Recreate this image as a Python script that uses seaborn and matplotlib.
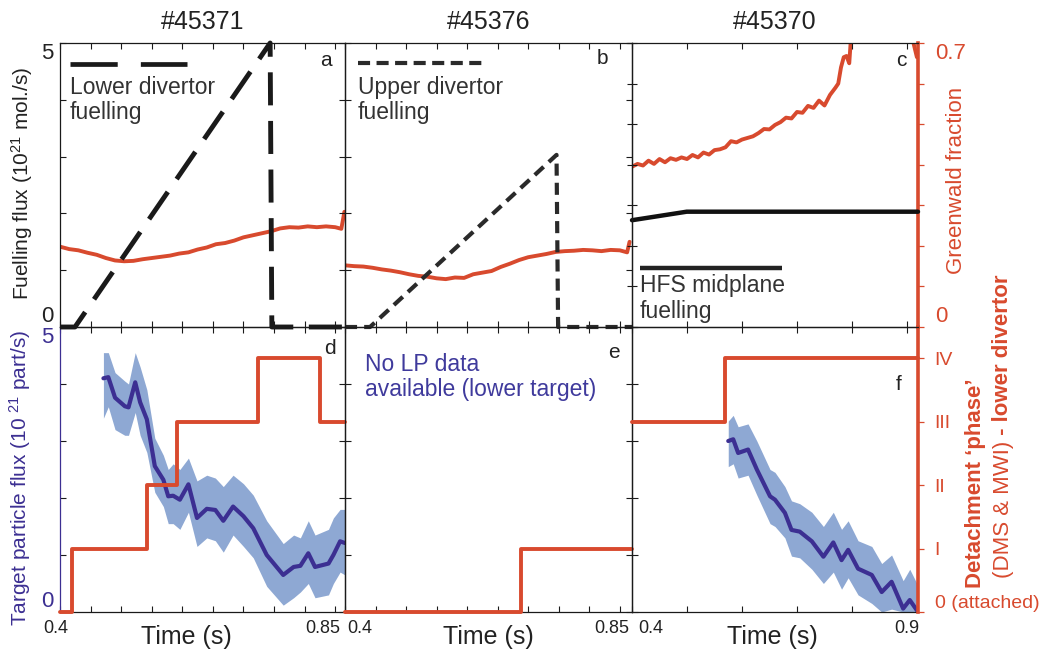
import numpy as np
import pandas as pd
import matplotlib
matplotlib.use("Agg")
import matplotlib.pyplot as plt
import matplotlib.transforms as mtransforms
import seaborn as sns

sns.set_theme(style="white")
plt.rcParams['font.family'] = ['Liberation Sans', 'DejaVu Sans']
plt.rcParams['mathtext.fontset'] = 'custom'
plt.rcParams['mathtext.rm'] = 'Liberation Sans'
plt.rcParams['mathtext.it'] = 'Liberation Sans:italic'
plt.rcParams['mathtext.bf'] = 'Liberation Sans:bold'

RED = '#d84a2e'
NAVY = '#3c2f92'
BAND = '#8ea8d3'
TXT = '#222222'

# ---------------- data ----------------
shots = ['#45371', '#45376', '#45370']
letters_top = ['a', 'b', 'c']
letters_bot = ['d', 'e', 'f']
xlims = [(0.4, 0.866), (0.4, 0.87), (0.4, 0.92)]
xtick_step = [0.05, 0.05, 0.1]
xtick_ends = [('0.4', '0.85'), ('0.4', '0.85'), ('0.4', '0.9')]
xtick_last = [0.85, 0.85, 0.9]
gw_ticks = [0.0, 0.1, 0.2, 0.3, 0.4, 0.5, 0.6, 0.7]
gw_ticklabels = ['0', '', '', '', '', '', '', '0.7']

# fuelling flux (1e21 mol/s)
fuel_a_t = [0.400, 0.4245, 0.7436, 0.7464, 0.866]
fuel_a_v = [0.0, 0.0, 5.0, 0.0, 0.0]
fuel_b_t = [0.400, 0.441, 0.7464, 0.749, 0.870]
fuel_b_v = [0.0, 0.0, 3.03, 0.0, 0.0]
fuel_c_t = [0.400, 0.4995, 0.920]
fuel_c_v = [1.88, 2.03, 2.03]

# Greenwald fraction
gw_a_t = [0.400, 0.415, 0.430, 0.445, 0.460, 0.475, 0.490, 0.505, 0.520, 0.535, 0.550,
          0.565, 0.580, 0.595, 0.610, 0.625, 0.640, 0.655, 0.670, 0.685, 0.700, 0.715,
          0.730, 0.745, 0.760, 0.775, 0.790, 0.805, 0.820, 0.835, 0.850, 0.860, 0.865]
gw_a_v = [0.198, 0.192, 0.189, 0.183, 0.178, 0.170, 0.164, 0.162, 0.163, 0.167, 0.170,
          0.173, 0.176, 0.181, 0.184, 0.191, 0.196, 0.204, 0.207, 0.213, 0.221, 0.226,
          0.231, 0.236, 0.243, 0.246, 0.245, 0.248, 0.246, 0.248, 0.246, 0.242, 0.284]
gw_b_t = [0.400, 0.415, 0.430, 0.445, 0.460, 0.475, 0.490, 0.505, 0.520, 0.535, 0.550,
          0.565, 0.580, 0.595, 0.610, 0.625, 0.640, 0.655, 0.670, 0.685, 0.700, 0.715,
          0.730, 0.745, 0.760, 0.775, 0.790, 0.805, 0.820, 0.835, 0.850, 0.862, 0.866]
gw_b_v = [0.152, 0.150, 0.149, 0.146, 0.142, 0.139, 0.135, 0.130, 0.126, 0.124, 0.120,
          0.118, 0.122, 0.121, 0.130, 0.134, 0.138, 0.148, 0.156, 0.165, 0.172, 0.176,
          0.180, 0.185, 0.187, 0.188, 0.190, 0.189, 0.187, 0.190, 0.189, 0.184, 0.210]
gw_c_t = [0.40, 0.41, 0.42, 0.43, 0.44, 0.45, 0.46, 0.47, 0.48, 0.49, 0.50, 0.51, 0.52,
          0.53, 0.54, 0.55, 0.56, 0.57, 0.58, 0.59, 0.60, 0.61, 0.62, 0.63, 0.64, 0.65,
          0.66, 0.67, 0.68, 0.69, 0.70, 0.71, 0.72, 0.73, 0.74, 0.75, 0.76, 0.77, 0.775,
          0.78, 0.785, 0.79, 0.795, 0.80, 0.85, 0.90, 0.91, 0.918]
gw_c_v = [0.395, 0.402, 0.398, 0.410, 0.402, 0.414, 0.406, 0.416, 0.412, 0.418, 0.414,
          0.424, 0.418, 0.430, 0.425, 0.436, 0.438, 0.443, 0.458, 0.455, 0.462, 0.466,
          0.470, 0.478, 0.488, 0.487, 0.498, 0.505, 0.516, 0.514, 0.530, 0.528, 0.545,
          0.540, 0.558, 0.546, 0.572, 0.590, 0.600, 0.640, 0.665, 0.668, 0.650, 0.750,
          0.850, 0.800, 0.710, 0.665]

# target particle flux (1e21 part/s) with uncertainty band
flux_d_t = [0.471, 0.479, 0.490, 0.506, 0.512, 0.523, 0.531, 0.542, 0.555, 0.569, 0.577,
            0.585, 0.596, 0.610, 0.624, 0.640, 0.654, 0.667, 0.683, 0.700, 0.716, 0.738,
            0.765, 0.782, 0.793, 0.806, 0.817, 0.839, 0.847, 0.858, 0.866]
flux_d_v = [4.10, 4.12, 3.76, 3.61, 3.59, 4.03, 3.68, 3.38, 2.56, 2.32, 2.03, 2.04, 1.97,
            2.24, 1.65, 1.81, 1.79, 1.60, 1.85, 1.68, 1.47, 1.00, 0.65, 0.79, 0.81, 1.03,
            0.79, 0.85, 1.00, 1.24, 1.21]
flux_d_hi = [4.55, 4.55, 4.20, 4.05, 4.00, 4.55, 4.30, 3.90, 3.05, 2.75, 2.50, 2.60, 2.50,
             2.70, 2.30, 2.40, 2.35, 2.20, 2.40, 2.25, 2.05, 1.60, 1.20, 1.35, 1.30, 1.60,
             1.35, 1.45, 1.65, 1.80, 1.80]
flux_d_lo = [3.40, 3.60, 3.20, 3.10, 3.10, 3.50, 3.10, 2.80, 2.10, 1.85, 1.55, 1.55, 1.45,
             1.75, 1.15, 1.30, 1.25, 1.05, 1.35, 1.15, 0.95, 0.45, 0.12, 0.25, 0.35, 0.50,
             0.25, 0.30, 0.50, 0.70, 0.65]
flux_f_t = [0.575, 0.584, 0.593, 0.611, 0.627, 0.651, 0.660, 0.678, 0.690, 0.705, 0.727,
            0.748, 0.766, 0.781, 0.793, 0.811, 0.836, 0.854, 0.872, 0.893, 0.905, 0.918]
flux_f_v = [3.00, 3.03, 2.79, 2.85, 2.50, 2.03, 1.97, 1.74, 1.44, 1.41, 1.24, 0.97, 1.22,
            0.91, 1.09, 0.76, 0.65, 0.35, 0.53, 0.06, 0.21, 0.03]
flux_f_hi = [3.35, 3.45, 3.25, 3.30, 3.00, 2.50, 2.45, 2.20, 1.95, 1.90, 1.75, 1.50, 1.75,
             1.45, 1.60, 1.25, 1.15, 0.85, 1.00, 0.55, 0.75, 0.50]
flux_f_lo = [2.55, 2.60, 2.35, 2.40, 2.05, 1.55, 1.50, 1.30, 0.98, 0.95, 0.75, 0.50, 0.70,
             0.40, 0.60, 0.30, 0.15, 0.00, 0.05, 0.00, 0.00, 0.00]

# detachment phase (0 = attached ... 4 = IV)
phase_d_t = [0.400, 0.419, 0.542, 0.591, 0.7245, 0.8255, 0.866]
phase_d_v = [0, 1, 2, 3, 4, 3, 3]
phase_e_t = [0.400, 0.689, 0.870]
phase_e_v = [0, 1, 1]
phase_f_t = [0.400, 0.569, 0.920]
phase_f_v = [3, 4, 4]
phase_labels = ['0 (attached)', 'I', 'II', 'III', 'IV']

# ---------------- layout ----------------
W, H = 1039, 654
fig = plt.figure(figsize=(W / 100, H / 100), dpi=100)
col_px = [(60, 345), (345, 632), (632, 918)]
row_px = [(43, 327), (327, 612)]
# horizontal nudges (pixels) of the end tick labels, as placed in the reference
label_nudge = [(-4, -12), (15, -8), (19, 0)]


def rect(c, r):
    x0, x1 = col_px[c]
    y0, y1 = row_px[r]
    return [x0 / W, 1 - y1 / H, (x1 - x0) / W, (y1 - y0) / H]


def xticks_setup(ax, i, labels):
    lo, hi = xlims[i]
    ticks = np.arange(lo, xtick_last[i] + 1e-9, xtick_step[i])
    ax.set_xlim(lo, hi)
    ax.set_xticks(ticks)
    ax.tick_params(axis='x', direction='in', top=True, bottom=True, length=4,
                   width=0.8, color='k', pad=6)
    if labels:
        labs = [''] * len(ticks)
        labs[0], labs[-1] = xtick_ends[i]
        ax.set_xticklabels(labs, fontsize=13, color=TXT)
        tl = ax.get_xticklabels()
        for lab, dx in zip([tl[0], tl[-1]], label_nudge[i]):
            lab.set_ha('center')
            lab.set_transform(lab.get_transform() +
                              mtransforms.ScaledTranslation(dx / 100, 0, fig.dpi_scale_trans))
    else:
        ax.set_xticklabels([''] * len(ticks))


def style_spines(ax, color='k', lw=0.9):
    for s in ax.spines.values():
        s.set_visible(True)
        s.set_color(color)
        s.set_linewidth(lw)


fuel_t = [fuel_a_t, fuel_b_t, fuel_c_t]
fuel_v = [fuel_a_v, fuel_b_v, fuel_c_v]
fuel_style = [dict(color='k', lw=3.5, linestyle=(0, (6.8, 3.2))),
              dict(color='#2a2a2a', lw=3.0, linestyle=(0, (2.9, 1.7))),
              dict(color='#111111', lw=3.2, linestyle='-')]
gw_t = [gw_a_t, gw_b_t, gw_c_t]
gw_v = [gw_a_v, gw_b_v, gw_c_v]

legend_text = ['Lower divertor\nfuelling', 'Upper divertor\nfuelling',
               'HFS midplane\nfuelling']

top_axes = []
for i in range(3):
    ax = fig.add_axes(rect(i, 0))
    axg = ax.twinx()
    ax.set_zorder(axg.get_zorder() + 1)
    ax.patch.set_visible(False)
    axg.patch.set_visible(False)
    style_spines(ax)
    ax.set_ylim(0, 5)
    axg.set_ylim(0, 0.7)

    # Greenwald fraction (red)
    sns.lineplot(x=gw_t[i], y=gw_v[i], ax=axg, color=RED, lw=2.8,
                 estimator=None, sort=False)
    # fuelling
    sns.lineplot(x=fuel_t[i], y=fuel_v[i], ax=ax, estimator=None, sort=False,
                 **fuel_style[i])
    for l in ax.get_lines():
        l.set_clip_on(False)
    ax.set_xlabel(''); ax.set_ylabel(''); axg.set_ylabel('')
    xticks_setup(ax, i, labels=False)

    if i == 2:
        # left spine of panel c carries Greenwald-fraction ticks
        ax.set_yticks([g / 0.7 * 5 for g in gw_ticks])
        ax.set_yticklabels([''] * len(gw_ticks))
        ax.tick_params(axis='y', direction='inout', left=True, right=False, length=7,
                       width=0.8, color='k')
        ax.spines['right'].set_visible(False)
        for s in ['left', 'top', 'bottom']:
            axg.spines[s].set_visible(False)
        axg.spines['right'].set_color(RED)
        axg.spines['right'].set_linewidth(2.6)
        axg.set_yticks(gw_ticks)
        axg.set_yticklabels(gw_ticklabels, fontsize=16, color=RED)
        gl = axg.get_yticklabels()
        gl[0].set_va('bottom'); gl[-1].set_va('top')
        axg.tick_params(axis='y', direction='out', left=False, right=True, length=4,
                        width=0.9, colors=RED, pad=8)
    else:
        ax.set_yticks([0, 1, 2, 3, 4, 5])
        if i == 0:
            ax.set_yticklabels(['0', '', '', '', '', '5'], fontsize=16, color=TXT)
            yl = ax.get_yticklabels()
            yl[0].set_va('bottom'); yl[-1].set_va('top')
        else:
            ax.set_yticklabels([''] * 6)
        ax.tick_params(axis='y', direction='in', left=True, right=True, length=4,
                       width=0.8, color='k', pad=5)
        axg.set_yticks([])
        for s in axg.spines.values():
            s.set_visible(False)

    # shot title and panel letter
    ax.text(0.5, 1.0 + 21 / 284, shots[i], transform=ax.transAxes, ha='center',
            va='center', fontsize=18, color=TXT)
    ax.text([0.955, 0.916, 0.96][i], [0.937, 0.947, 0.94][i], letters_top[i],
            transform=ax.transAxes, ha='right', va='center', fontsize=15, color=TXT)
    top_axes.append(ax)

# legend-like annotations in the top row
axa, axb, axc = top_axes
axa.plot([0.035, 0.444], [0.926, 0.926], transform=axa.transAxes, color='k', lw=3.4,
         linestyle=(0, (10, 4.9)), solid_capstyle='butt')
axa.text(0.035, 0.885, legend_text[0], transform=axa.transAxes, ha='left', va='top',
         fontsize=16.5, color='#333333', linespacing=1.15)
axb.plot([0.045, 0.481], [0.93, 0.93], transform=axb.transAxes, color='#2a2a2a', lw=3.0,
         linestyle=(0, (2.9, 1.55)))
axb.text(0.045, 0.885, legend_text[1], transform=axb.transAxes, ha='left', va='top',
         fontsize=16.5, color='#333333', linespacing=1.15)
axc.plot([0.028, 0.524], [0.208, 0.208], transform=axc.transAxes, color='#222222', lw=3.2,
         solid_capstyle='butt')
axc.text(0.028, 0.185, legend_text[2], transform=axc.transAxes, ha='left', va='top',
         fontsize=16.5, color='#333333', linespacing=1.15)

# ---------------- bottom row ----------------
phase_t = [phase_d_t, phase_e_t, phase_f_t]
phase_v = [phase_d_v, phase_e_v, phase_f_v]
flux_sets = [(flux_d_t, flux_d_v, flux_d_lo, flux_d_hi), None,
             (flux_f_t, flux_f_v, flux_f_lo, flux_f_hi)]
bot_axes = []
for i in range(3):
    ax = fig.add_axes(rect(i, 1))
    axp = ax.twinx()
    ax.patch.set_visible(False)
    axp.patch.set_visible(False)
    style_spines(ax)
    ax.set_ylim(0, 5)
    axp.set_ylim(0, 4.49)

    fs = flux_sets[i]
    if fs is not None:
        t, v, lo, hi = fs
        ax.fill_between(t, lo, hi, color=BAND, lw=0, zorder=1)
        sns.lineplot(x=t, y=v, ax=ax, color=NAVY, lw=3.0, estimator=None, sort=False,
                     zorder=2)
    sns.lineplot(x=phase_t[i], y=phase_v[i], ax=axp, color=RED, lw=2.8,
                 drawstyle='steps-post', estimator=None, sort=False)
    for l in axp.get_lines():
        l.set_clip_on(False)
    ax.set_xlabel(''); ax.set_ylabel(''); axp.set_ylabel('')
    xticks_setup(ax, i, labels=True)

    ax.set_yticks([0, 1, 2, 3, 4, 5])
    if i == 0:
        ax.set_yticklabels(['0', '', '', '', '', '5'], fontsize=16, color=NAVY)
        yl = ax.get_yticklabels()
        yl[0].set_va('bottom'); yl[-1].set_va('top')
        ax.spines['left'].set_color(NAVY)
    else:
        ax.set_yticklabels([''] * 6)
    ax.tick_params(axis='y', direction='in', left=True, right=(i != 2), length=4,
                   width=0.8, color='k', pad=5)

    if i == 2:
        ax.spines['right'].set_visible(False)
        for s in ['left', 'top', 'bottom']:
            axp.spines[s].set_visible(False)
        axp.spines['right'].set_color(RED)
        axp.spines['right'].set_linewidth(2.6)
        axp.set_yticks([0, 1, 2, 3, 4])
        axp.set_yticklabels(phase_labels, fontsize=14, color=RED)
        axp.get_yticklabels()[0].set_va('bottom')
        axp.tick_params(axis='y', direction='out', right=True, length=4, width=0.9,
                        colors=RED, pad=8)
    else:
        axp.set_yticks([])
        for s in axp.spines.values():
            s.set_visible(False)

    ax.text([0.968, 0.958, 0.944][i], [0.926, 0.912, 0.80][i], letters_bot[i],
            transform=ax.transAxes, ha='right', va='center', fontsize=15, color=TXT)
    bot_axes.append(ax)

axd, axe, axf = bot_axes
axe.text(0.07, 0.91, 'No LP data\navailable (lower target)', transform=axe.transAxes,
         ha='left', va='top', fontsize=16.5, color='#3f3a9c', linespacing=1.15)

# axis titles
for xc in [186, 488, 772]:
    fig.text(xc / W, 1 - 637 / H, 'Time (s)', ha='center', va='center', fontsize=18,
             color=TXT)
fig.text(22 / W, 1 - 183 / H, 'Fuelling flux (10$^{21}$ mol./s)', rotation=90,
         ha='center', va='center', fontsize=15, color=TXT)
fig.text(20 / W, 1 - 478 / H, 'Target particle flux (10 $^{21}$ part/s)', rotation=90,
         ha='center', va='center', fontsize=15, color=NAVY)
fig.text(957 / W, 1 - 180 / H, 'Greenwald fraction', rotation=90, ha='center',
         va='center', fontsize=16, color=RED)
fig.text(976 / W, 1 - 588 / H, 'Detachment \u2018phase\u2019', rotation=90, ha='center',
         va='bottom', fontsize=16, color=RED, fontweight='bold')
t1 = fig.text(1003 / W, 1 - 578 / H, '(DMS & MWI)', rotation=90, ha='center',
              va='bottom', fontsize=16, color=RED)
axf.annotate(' - lower divertor', xy=(0.5, 1.0), xycoords=t1, rotation=90, ha='center',
             va='bottom', fontsize=16, color=RED, fontweight='bold',
             annotation_clip=False)

fig.savefig('out.png', dpi=100, facecolor='white')
